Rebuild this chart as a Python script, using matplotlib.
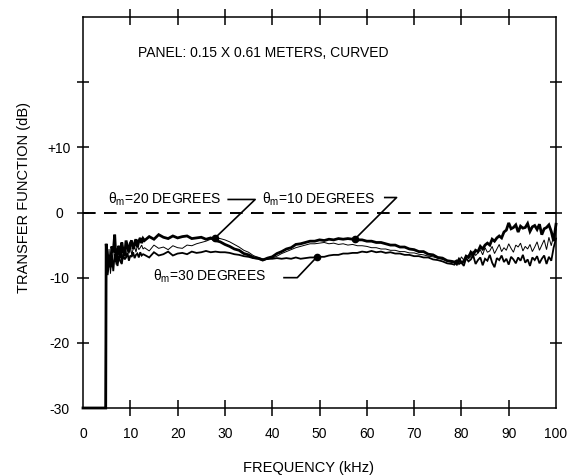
import numpy as np
import matplotlib
matplotlib.use("Agg")
import matplotlib.pyplot as plt

plt.rcParams['font.family'] = ['Liberation Sans', 'DejaVu Sans']
plt.rcParams['mathtext.fontset'] = 'custom'
plt.rcParams['mathtext.rm'] = 'Liberation Sans'
plt.rcParams['mathtext.it'] = 'Liberation Sans'

# ---------------- data ----------------
freq_step = [0.0, 4.8]
freq_a = [4.9, 5.2, 5.5, 5.8, 6.1, 6.4, 6.7, 7.0, 7.3, 7.6, 7.9, 8.2, 8.5, 8.8,
          9.1, 9.4, 9.7, 10.0, 10.3, 10.6, 10.9, 11.2, 11.5, 11.8, 12.1, 12.4, 12.7]
freq_b = list(range(13, 79))
freq_c = [78.5, 79, 79.5, 80, 80.5, 81, 81.5, 82, 82.5, 83, 83.5, 84, 84.5, 85,
          85.5, 86, 86.5, 87, 87.5, 88, 88.5, 89, 89.5, 90, 90.5, 91, 91.5, 92,
          92.5, 93, 93.5, 94, 94.5, 95, 95.5, 96, 96.5, 97, 97.5, 98, 98.5, 99,
          99.5, 100]

step_db = [-30.0, -30.0]

# theta_m = 10 degrees (heavy line)
deg10_a = [-4.8, -7.9, -6.5, -8.4, -5.2, -6.1, -3.4, -7.6, -6.0, -5.1, -7.0, -4.6,
           -5.9, -6.6, -4.3, -5.2, -6.1, -4.7, -4.3, -5.6, -4.9, -4.1, -5.3, -4.4,
           -3.9, -4.7, -4.0]
deg10_b = [-4.3, -3.7, -4.1, -3.4, -3.8, -4.0, -3.6, -3.9, -3.7, -3.6, -4.0, -3.9,
           -3.8, -4.1, -3.9, -4.3, -4.5, -4.9,
           -5.2, -5.6, -5.8, -6.3, -6.5, -6.9, -7.0, -7.3, -7.0, -6.8, -6.3, -6.0,
           -5.6, -5.4, -4.9, -4.8, -4.6, -4.4, -4.4, -4.2, -4.3, -4.1, -4.2, -4.0,
           -4.1, -4.0, -4.1, -4.2, -4.2, -4.4, -4.4, -4.6, -4.6, -4.8, -5.0, -5.0,
           -5.3, -5.3, -5.6, -5.7, -6.0, -6.0, -6.4, -6.5, -6.9, -7.0, -7.4, -7.5]
deg10_c = [-7.6, -7.9, -7.2, -7.7, -7.5, -6.7, -6.9, -6.1, -6.5, -5.8, -6.0, -5.2,
           -5.6, -5.0, -4.7, -5.0, -4.1, -4.4, -3.9, -3.6, -3.9, -3.0, -2.7, -1.6,
           -2.5, -2.3, -1.9, -3.0, -2.1, -2.4, -2.3, -1.7, -2.9, -2.2, -2.0, -2.6,
           -1.8, -3.4, -2.5, -2.3, -1.9, -2.9, -4.4, -1.8]

# theta_m = 20 degrees (thin line)
deg20_a = [-6.8, -8.6, -5.6, -9.4, -7.3, -6.1, -5.0, -8.0, -6.4, -7.1, -5.3, -7.6,
           -6.2, -5.6, -7.0, -5.4, -6.3, -5.1, -6.5, -5.6, -5.2, -6.1, -5.0, -5.7,
           -5.4, -5.0, -5.6]
deg20_b = [-5.4, -5.9, -5.0, -5.5, -5.3, -5.7, -5.1, -5.4, -5.5, -5.0, -5.1, -4.8,
           -4.6, -4.4, -4.1, -3.9, -4.0, -4.2,
           -4.5, -4.9, -5.3, -5.8, -6.1, -6.6, -6.9, -7.1, -7.2, -7.0, -6.7, -6.3,
           -6.0, -5.7, -5.4, -5.2, -5.0, -4.8, -4.8, -4.7, -4.6, -4.8, -4.7, -4.9,
           -4.8, -5.0, -4.9, -5.1, -5.1, -5.2, -5.4, -5.4, -5.6, -5.6, -5.8, -5.8,
           -6.0, -6.0, -6.2, -6.2, -6.4, -6.5, -6.7, -6.8, -7.0, -7.2, -7.4, -7.7]
deg20_c = [-7.5, -7.3, -7.7, -6.8, -7.3, -7.1, -6.5, -6.9, -5.9, -6.6, -6.2, -5.7,
           -6.5, -5.4, -6.1, -5.9, -5.2, -6.3, -5.6, -4.9, -6.0, -5.4, -5.8, -4.8,
           -5.5, -6.1, -5.0, -5.3, -4.7, -5.9, -5.2, -5.6, -4.9, -6.0, -5.3, -4.5,
           -5.8, -5.0, -4.2, -5.7, -3.8, -5.1, -3.5, -2.6]

# theta_m = 30 degrees (medium line)
deg30_a = [-7.2, -9.6, -7.8, -8.1, -6.6, -9.0, -6.4, -7.4, -8.2, -6.7, -7.5, -7.9,
           -6.4, -7.2, -6.9, -6.2, -7.4, -6.6, -6.8, -6.1, -7.0, -6.5, -6.3, -6.9,
           -6.1, -6.6, -6.4]
deg30_b = [-6.5, -6.9, -6.1, -6.6, -6.4, -6.0, -6.6, -6.3, -6.2, -6.4, -6.0, -6.2,
           -6.1, -5.9, -6.1, -6.0, -6.1, -6.1,
           -6.2, -6.4, -6.5, -6.7, -6.8, -7.0, -7.1, -7.3, -7.1, -7.1, -7.0, -7.1,
           -7.0, -7.1, -6.9, -7.1, -7.0, -6.9, -6.9, -6.8, -6.8, -6.6, -6.5, -6.5,
           -6.3, -6.3, -6.2, -6.2, -6.0, -6.1, -5.9, -6.1, -6.0, -6.2, -6.1, -6.3,
           -6.3, -6.5, -6.5, -6.7, -6.7, -6.9, -6.9, -7.2, -7.3, -7.5, -7.8, -7.9]
deg30_c = [-8.0, -7.3, -7.9, -7.6, -8.2, -7.0, -7.5, -7.2, -6.6, -7.9, -7.3, -6.9,
           -8.1, -7.1, -7.4, -6.5, -7.7, -8.4, -7.0, -7.3, -6.6, -7.6, -7.1, -8.0,
           -6.8, -7.2, -7.8, -6.9, -7.4, -6.5, -7.7, -7.2, -8.2, -6.9, -7.3, -6.7,
           -7.8, -7.1, -6.6, -7.9, -6.8, -7.4, -5.4, -4.0]

series_labels = ["10 DEGREES", "20 DEGREES", "30 DEGREES"]
marker_freq = [57.4, 27.9, 49.4]          # where each label's leader meets its curve

x_ticks = [0, 10, 20, 30, 40, 50, 60, 70, 80, 90, 100]
x_ticklabels = ["0", "10", "20", "30", "40", "50", "60", "70", "80", "90", "100"]
y_ticks = [-30, -20, -10, 0, 10, 20, 30]
y_ticklabels = ["-30", "-20", "-10", "0", "+10", "", ""]

# ---------------- figure ----------------
fig = plt.figure(figsize=(5.67, 4.75), dpi=100)
ax = fig.add_axes([83 / 567, 1 - 408 / 475, 473 / 567, 391 / 475])

freq = np.array(freq_step + freq_a + freq_b + freq_c)
curves = [
    np.array(step_db + deg10_a + deg10_b + deg10_c),
    np.array(step_db + deg20_a + deg20_b + deg20_c),
    np.array(step_db + deg30_a + deg30_b + deg30_c),
]
widths = [2.0, 0.7, 1.3]
for y, lw in zip(curves, widths):
    ax.plot(freq, y, color="black", lw=lw, solid_joinstyle="miter", clip_on=False, zorder=3)

ax.axhline(0, color="black", lw=1.4, ls=(0, (6.5, 4.3)), zorder=2)

ax.set_xlim(0, 100)
ax.set_ylim(-30, 30)

for s in ax.spines.values():
    s.set_linewidth(1.1)

ax.set_xticks(x_ticks)
ax.set_xticklabels(x_ticklabels, fontsize=10)
ax.set_yticks(y_ticks)
ax.set_yticklabels(y_ticklabels, fontsize=10, ha="center")
ax.tick_params(axis="x", direction="inout", length=12, width=1.1, pad=7.5,
               top=True, bottom=True)
ax.tick_params(axis="y", direction="inout", length=8.5, width=1.1, pad=13,
               left=True, right=True)
for t in (ax.xaxis.get_major_ticks()[0], ax.xaxis.get_major_ticks()[-1],
          ax.yaxis.get_major_ticks()[0], ax.yaxis.get_major_ticks()[-1]):
    t.tick1line.set_visible(False)
    t.tick2line.set_visible(False)

ax.set_xlabel("FREQUENCY (kHz)", fontsize=10.5, va="center")
ax.xaxis.set_label_coords(0.4757, -0.1535)
ax.set_ylabel("TRANSFER FUNCTION (dB)", fontsize=10.5, va="center")
ax.yaxis.set_label_coords(-0.1247, 0.5396)

ax.text(11.6, 24.4, "PANEL: 0.15 X 0.61 METERS, CURVED", fontsize=10,
        ha="left", va="center")

# labels with leader lines and dots
label_pos = [(37.8, 2.0), (5.3, 2.0), (14.8, -9.75)]
leaders = [
    ([63.8, 66.3], [2.3, 2.3]),
    ([30.7, 36.4], [2.0, 2.0]),
    ([42.5, 45.3], [-10.0, -10.0]),
]
for lab, (tx, ty), (lx, ly), mf, y in zip(series_labels, label_pos, leaders,
                                           marker_freq, curves):
    ax.text(tx, ty, r"$\mathrm{\theta_m}$=" + lab, fontsize=10, ha="left", va="center")
    my = float(np.interp(mf, freq, y))
    ax.plot(lx + [mf], ly + [my], color="black", lw=1.2, zorder=4)
    ax.plot([mf], [my], "o", color="black", ms=4.5, zorder=5)

fig.savefig("out.png", dpi=100)
